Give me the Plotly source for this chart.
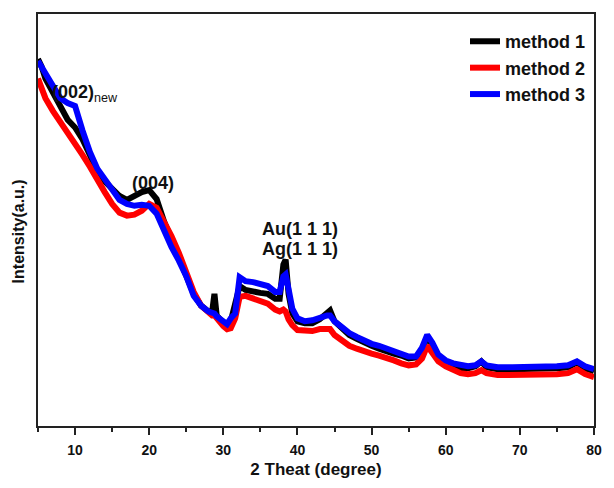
import plotly.graph_objects as go

# 2-theta grid (degree)
two_theta = [5, 5.5, 6, 7, 8, 9, 10, 11, 12, 13, 14, 15, 16, 17, 18, 19, 20, 21, 22, 23,
             24, 25, 26, 27, 28, 28.5, 28.8, 29.1, 30, 30.5, 31, 31.6, 32.2, 33, 34, 35,
             36, 37, 37.6, 38.1, 38.4, 38.8, 39.3, 40, 41, 42, 43, 44, 44.4, 45, 46, 47,
             48, 49, 50, 51, 52, 53, 54, 55, 56, 56.8, 57.5, 58.2, 59, 60, 61, 62, 63, 64,
             64.8, 65.5, 67, 69, 71, 73, 75, 76.5, 77.7, 78.8, 80]

# intensities (a.u.)
method1 = [375, 367, 355, 340, 325, 313, 305, 293, 277, 260, 250, 243, 235, 231, 235, 239,
           241, 232, 209, 190, 172, 153, 135, 123, 117, 117, 135, 113, 104, 101, 107, 125,
           143, 139, 137, 136, 135, 130, 130, 165, 170, 135, 115, 107, 105, 105, 109, 117,
           118, 107, 99, 93, 89, 85, 82, 79, 76, 74, 72, 69, 70, 78, 91, 83, 71, 64, 59,
           59, 59, 61, 66, 60, 58, 58, 58, 59, 59, 60, 65, 59, 56]
method2 = [355, 343, 335, 322, 311, 301, 289, 277, 265, 251, 239, 227, 218, 215, 216, 220,
           227, 223, 210, 194, 177, 157, 137, 123, 115, 113, 113, 110, 102, 99, 100, 110,
           132, 133, 130, 127, 125, 119, 117, 119, 117, 109, 103, 98, 97, 97, 99, 100, 99,
           93, 87, 82, 79, 76, 74, 72, 70, 67, 64, 62, 63, 69, 82, 75, 66, 61, 57, 54, 53,
           54, 57, 54, 52, 52, 52, 52, 53, 54, 58, 53, 50]
method3 = [373, 367, 361, 349, 335, 330, 327, 302, 280, 263, 252, 240, 231, 227, 225, 226,
           225, 217, 199, 183, 169, 153, 133, 123, 117, 115, 115, 112, 106, 104, 110, 115,
           152, 148, 147, 145, 143, 137, 137, 153, 155, 140, 120, 110, 107, 108, 111, 113,
           113, 107, 101, 95, 91, 87, 84, 82, 79, 77, 74, 71, 71, 80, 93, 85, 73, 67, 64,
           62, 61, 62, 66, 62, 60, 60, 60, 61, 61, 62, 66, 61, 58]

series = [("method 1", method1, "#000000"),
          ("method 2", method2, "#ff0000"),
          ("method 3", method3, "#0000ff")]

FONT = "Liberation Sans, Arial, sans-serif"

fig = go.Figure()
for name, vals, color in series:
    fig.add_trace(go.Scatter(x=two_theta, y=vals, mode="lines", name=name,
                             line=dict(color=color, width=6)))

annots = [
    dict(x=6.6, y=340, text="<b>(002)</b><sub>new</sub>", xanchor="left"),
    dict(x=20.56, y=248, text="<b>(004)</b>", xanchor="center"),
    dict(x=40.3, y=201, text="<b>Au(1 1 1)</b>", xanchor="center"),
    dict(x=40.4, y=181, text="<b>Ag(1 1 1)</b>", xanchor="center"),
]
for a in annots:
    fig.add_annotation(x=a["x"], y=a["y"], text=a["text"], xanchor=a["xanchor"],
                       yanchor="middle", showarrow=False,
                       font=dict(family=FONT, size=18, color="#111"))

fig.add_annotation(xref="paper", yref="paper", x=-0.0355, y=0.473,
                   text="<b>Intensity(a.u.)</b>", textangle=-90, showarrow=False,
                   xanchor="center", yanchor="middle",
                   font=dict(family=FONT, size=16, color="#111"))

fig.update_layout(
    width=614, height=488,
    margin=dict(l=38, r=12, t=14, b=53),
    paper_bgcolor="white", plot_bgcolor="white",
    showlegend=True,
    legend=dict(x=0.768, y=0.978, xanchor="left", yanchor="top",
                bgcolor="rgba(0,0,0,0)",
                font=dict(family=FONT, size=18, color="#111", weight="bold")),
    xaxis=dict(range=[5, 80], tick0=0, dtick=10, ticks="outside", ticklen=7,
               tickwidth=2, tickcolor="#222", ticklabelstandoff=3,
               minor=dict(dtick=5, tick0=0, ticks="outside", ticklen=4,
                          tickwidth=2, tickcolor="#222"),
               showline=True, linewidth=2, linecolor="#222", mirror=True,
               showgrid=False, zeroline=False,
               tickfont=dict(family=FONT, size=14, color="#111", weight="bold"),
               title=dict(text="2 Theat (degree)", standoff=6,
                          font=dict(family=FONT, size=17, color="#111", weight="bold"))),
    yaxis=dict(range=[0, 421], showticklabels=False, ticks="",
               showline=True, linewidth=2, linecolor="#222", mirror=True,
               showgrid=False, zeroline=False),
)

# remove the page's default body margin so the 614x488 figure fills the window exactly
fig.write_html("out.html",
               config={"displayModeBar": False},
               post_script="document.body.style.margin='0';document.body.style.overflow='hidden';")
